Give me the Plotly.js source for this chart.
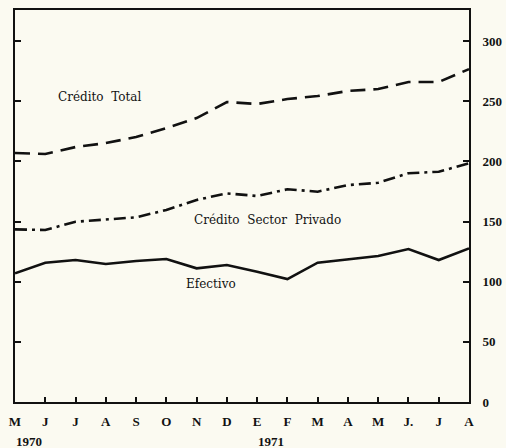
<!DOCTYPE html>
<html>
<head>
<meta charset="utf-8">
<script src="https://cdn.plot.ly/plotly-3.0.1.min.js"></script>
<style>html,body{margin:0;padding:0;background:#fbfaf1;}</style>
</head>
<body>
<div id="chart" style="width:506px;height:448px;"></div>
<script>
const months = ["M","J","J","A","S","O","N","D","E","F","M","A","M","J.","J","A"];
const creditoTotal = [206.9,206.1,211.9,215.2,220.2,227.7,236.0,249.3,247.7,251.8,254.3,258.5,260.1,266.0,266.0,276.7];
const creditoPrivado = [143.5,143.0,149.8,151.8,153.5,159.6,167.9,173.4,171.2,176.8,174.8,180.3,182.2,190.1,191.4,198.4];
const efectivo = [107.0,115.8,118.0,114.7,117.2,118.8,111.1,113.9,108.3,102.2,115.8,118.6,121.3,127.1,118.0,127.7];
const yTicks = [0,50,100,150,200,250,300];
const yearLabels = ["1970","1971"];
const yearAt = [0, 8];

const idx = months.map((m,i)=>i);
const lineBase = {type:"scatter", mode:"lines", x: idx, hoverinfo:"skip", showlegend:false};
const traces = [
  Object.assign({}, lineBase, {y: creditoTotal, line:{color:"#111", width:2.6, dash:"15px,8px"}}),
  Object.assign({}, lineBase, {y: creditoPrivado, line:{color:"#111", width:2.6, dash:"12px,5px,3px,5px"}}),
  Object.assign({}, lineBase, {y: efectivo, line:{color:"#111", width:2.6}})
];

const font = {family:"Liberation Serif, DejaVu Serif, serif", color:"#111"};
const annFont = {family:"DejaVu Serif, serif", color:"#111", size:12};
const layout = {
  width:506, height:448,
  margin:{l:14.5, r:37, t:10, b:46, pad:0},
  paper_bgcolor:"#fbfaf1", plot_bgcolor:"#fbfaf1",
  xaxis:{
    range:[0,15], tickvals: idx, ticktext: months,
    ticks:"inside", ticklen:5, tickwidth:2, tickcolor:"#111",
    showline:true, linecolor:"#111", linewidth:2, mirror:true,
    showgrid:false, zeroline:false,
    tickfont:Object.assign({size:13, weight:"bold"}, font),
    ticklabelstandoff:6
  },
  yaxis:{
    range:[0,325.8], side:"right", tickvals: yTicks,
    ticks:"inside", ticklen:6, tickwidth:2, tickcolor:"#111",
    showline:true, linecolor:"#111", linewidth:2, mirror:"ticks",
    showgrid:false, zeroline:false,
    tickfont:Object.assign({size:13, weight:"bold"}, font),
    ticklabelstandoff:9
  },
  annotations:[
    {text:"Crédito  Total", x:2.79, y:253.7, xref:"x", yref:"y", showarrow:false, font:annFont},
    {text:"Crédito  Sector  Privado", x:8.33, y:151, xref:"x", yref:"y", showarrow:false, font:annFont},
    {text:"Efectivo", x:6.48, y:98, xref:"x", yref:"y", showarrow:false, font:annFont},
    {text:yearLabels[0], x:yearAt[0], xanchor:"left", xshift:-1, y:-0.1, xref:"x", yref:"paper", yanchor:"middle", showarrow:false, font:Object.assign({size:13, weight:"bold"}, font)},
    {text:yearLabels[1], x:yearAt[1], xanchor:"left", xshift:-1, y:-0.1, xref:"x", yref:"paper", yanchor:"middle", showarrow:false, font:Object.assign({size:13, weight:"bold"}, font)}
  ]
};
Plotly.newPlot("chart", traces, layout, {displayModeBar:false, staticPlot:true});
</script>
</body>
</html>
